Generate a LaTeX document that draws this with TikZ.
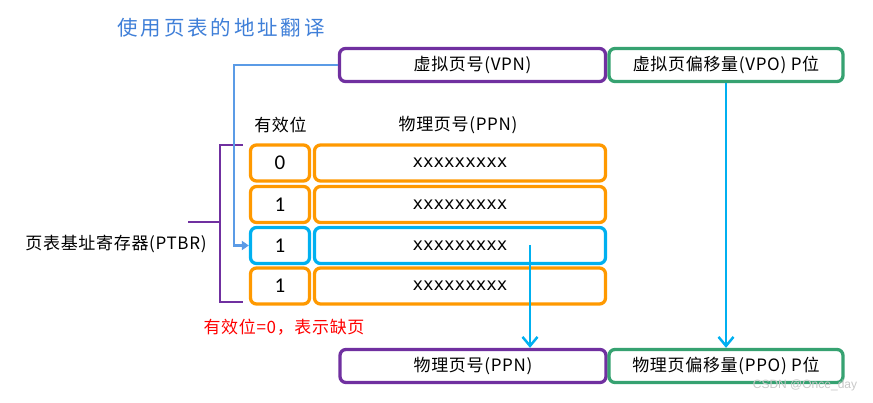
\documentclass[tikz,border=0pt]{standalone}
\usepackage{fontspec}
\setmainfont{Noto Sans CJK SC}
\newfontfamily\titlefont[LetterSpace=14]{Noto Sans CJK SC}
\newfontfamily\boxfont[LetterSpace=4]{Noto Sans CJK SC}
\newfontfamily\xmono{DejaVu Sans Mono}
\newfontfamily\digitfont{Carlito}
\newfontfamily\wmfont{Liberation Sans}
\usetikzlibrary{arrows.meta}
\definecolor{cpurple}{HTML}{7030A0}
\definecolor{cgreen}{HTML}{36A271}
\definecolor{corange}{HTML}{FF9900}
\definecolor{ccyan}{HTML}{00B0F0}
\definecolor{cblue}{HTML}{5B9BE6}
\definecolor{ctitle}{HTML}{3F7FD8}
\definecolor{cwm}{HTML}{C8C8C8}
\begin{document}
\begin{tikzpicture}[x=1pt,y=-1pt,
  box/.style={draw, line width=3.3pt, rounded corners=6pt, inner sep=0pt, fill=white,
    font=\boxfont\fontsize{17}{20}\selectfont},
  topbox/.style={box, minimum height=33pt},
  vcell/.style={box, draw=corange, minimum width=59pt, minimum height=36pt,
    font=\digitfont\fontsize{21}{24}\selectfont},
  mcell/.style={box, draw=corange, minimum width=291pt, minimum height=36pt,
    font=\xmono\fontsize{17.5}{20}\selectfont},
  hl/.style={draw=ccyan},
  label/.style={inner sep=0pt, font=\boxfont\fontsize{17}{20}\selectfont},
  cyanarrow/.style={draw=ccyan, line width=2.5pt, -{Straight Barb[length=9pt,width=15pt,line width=2.5pt]}},
]
\useasboundingbox (0,0) rectangle (873,403);

% title
\node[inner sep=0pt, text=ctitle, font=\titlefont\fontsize{20.5}{24}\selectfont] (title) at (221,28) {使用页表的地址翻译};

% top boxes
\node[topbox, draw=cpurple, minimum width=266pt] (vpn) at (472.5,65) {虚拟页号(VPN)};
\node[topbox, draw=cgreen, minimum width=234pt] (vpo) at (726,65) {虚拟页偏移量(VPO) P位};

% headers
\node[label] (hvalid) at (280.5,125) {有效位};
\node[label] (hppn) at (458,125) {物理页号(PPN)};

% table rows
\node[vcell] (r1v) at (280,163) {0};
\node[mcell] (r1m) at (460,163) {xxxxxxxxx};
\node[vcell] (r2v) at (280,204.5) {1};
\node[mcell] (r2m) at (460,204.5) {xxxxxxxxx};
\node[vcell] (r4v) at (280,286) {1};
\node[mcell] (r4m) at (460,286) {xxxxxxxxx};
\node[vcell, hl] (r3v) at (280,245.5) {1};
\node[mcell, hl] (r3m) at (460,245.5) {xxxxxxxxx};

% bottom boxes
\node[topbox, draw=cpurple, minimum width=266pt] (ppn) at (473,366) {物理页号(PPN)};
\node[topbox, draw=cgreen, minimum width=234pt] (ppo) at (726,366) {物理页偏移量(PPO) P位};

% PTBR bracket and label
\coordinate (bt) at (243,145);
\coordinate (bb) at (243,302);
\coordinate (btick) at (188,222);
\draw[cpurple, line width=2.5pt] (bt) -- (220,145) -- (220,302) -- (bb);
\draw[cpurple, line width=2.5pt] (btick) -- (220,222);
\node[label] (ptbr) at (116,244) {页表基址寄存器(PTBR)};

% VPN -> row 3
\coordinate (jog) at (234,150);
\draw[cblue, line width=2.5pt, -{Triangle[length=7pt,width=9pt]}] (vpn.west) -| (jog) |- (r3v.west);

% row 3 -> PPN
\coordinate (p1) at (530,245);
\draw[cyanarrow] (p1) -- (p1 |- ppn.north);

% VPO -> PPO
\draw[cyanarrow] (vpo.south) -- (ppo.north);

% note
\node[inner sep=0pt, text=red, font=\boxfont\fontsize{17}{20}\selectfont] (note) at (284,327) {有效位=0，表示缺页};

% watermark
\node[inner sep=0pt, text=cwm, font=\wmfont\fontsize{12}{14}\selectfont] (wm) at (805,385) {CSDN @Once\_day};
\end{tikzpicture}
\end{document}
